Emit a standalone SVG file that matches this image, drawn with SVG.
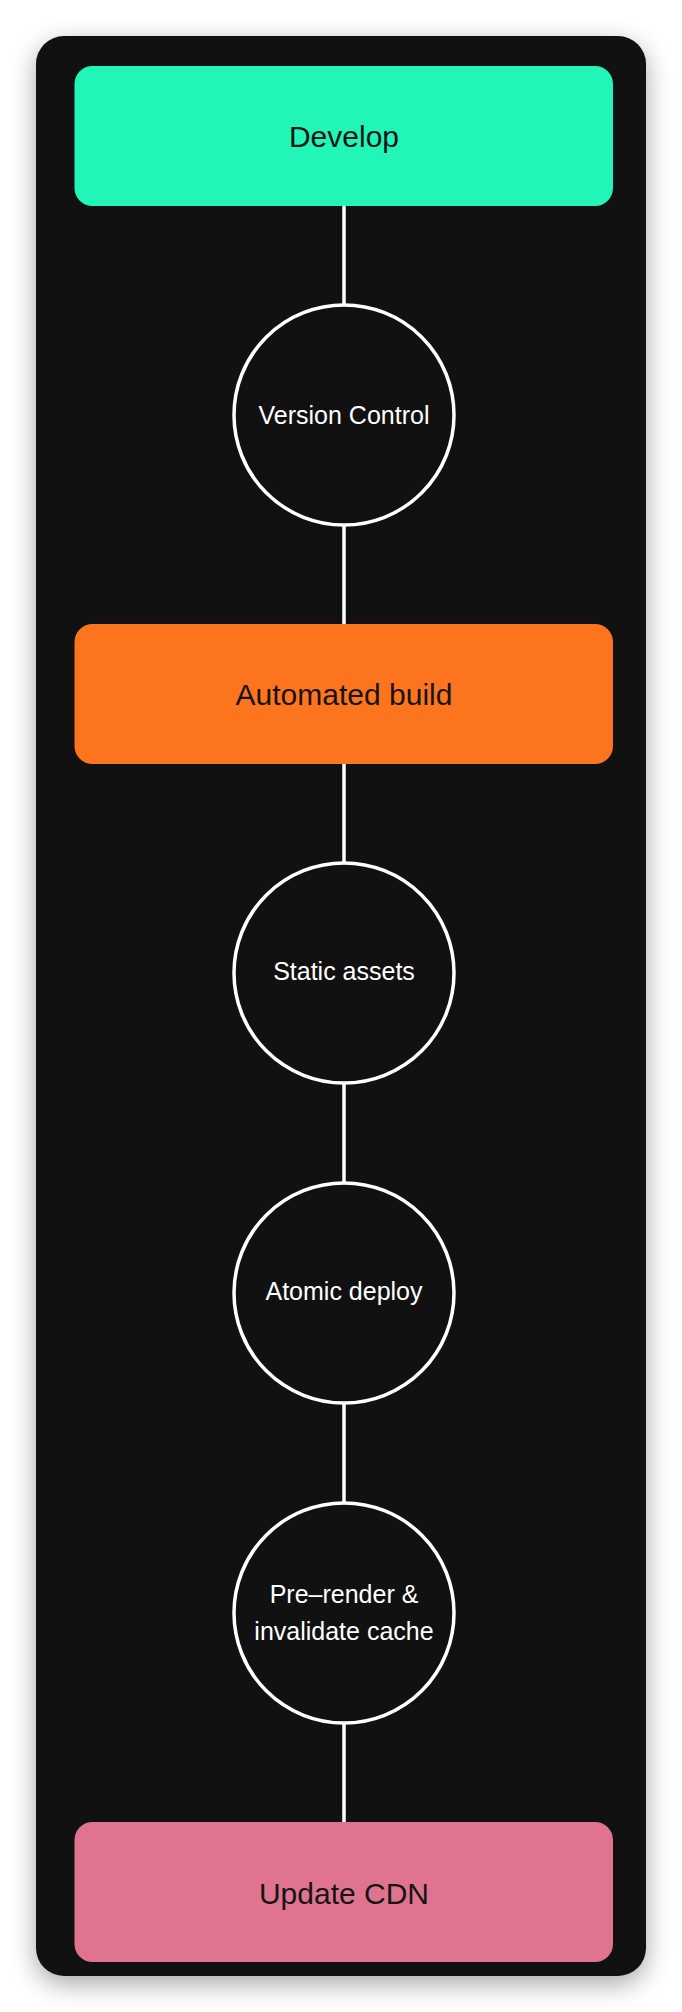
<svg xmlns="http://www.w3.org/2000/svg" width="682" height="2012" viewBox="0 0 682 2012">
<defs>
<filter id="shadow" x="-20%" y="-10%" width="140%" height="120%" color-interpolation-filters="sRGB">
<feGaussianBlur stdDeviation="13"/>
</filter>
</defs>
<style>
.box-text{font-family:"Liberation Sans",Arial,Helvetica,sans-serif;font-size:30px;fill:#151515;text-anchor:middle}
.circ-text{font-family:"Liberation Sans",Arial,Helvetica,sans-serif;font-size:25px;fill:#ffffff;text-anchor:middle}
.circ{fill:#111111;stroke:#ffffff;stroke-width:3.5}
.edge{stroke:#ffffff;stroke-width:3.5;fill:none}
</style>
<rect width="682" height="2012" fill="#ffffff"/>
<rect x="36" y="44" width="610" height="1940" rx="28" fill="#000000" opacity="0.35" filter="url(#shadow)"/>
<rect id="card" x="36" y="36" width="610" height="1940" rx="28" fill="#111111"/>
<g id="connectors">
<line class="edge" x1="344" y1="206" x2="344" y2="305"/>
<line class="edge" x1="344" y1="525" x2="344" y2="624"/>
<line class="edge" x1="344" y1="764" x2="344" y2="863"/>
<line class="edge" x1="344" y1="1083" x2="344" y2="1183"/>
<line class="edge" x1="344" y1="1403" x2="344" y2="1503"/>
<line class="edge" x1="344" y1="1723" x2="344" y2="1822"/>
</g>
<g id="develop">
<rect x="74.5" y="66" width="538.5" height="140" rx="18" fill="#21F5B8"/>
<text class="box-text" x="344" y="147">Develop</text>
</g>
<g id="version-control">
<circle class="circ" cx="344" cy="415" r="110"/>
<text class="circ-text" x="344" y="424">Version Control</text>
</g>
<g id="automated-build">
<rect x="74.5" y="624" width="538.5" height="140" rx="18" fill="#FD741F"/>
<text class="box-text" x="344" y="705">Automated build</text>
</g>
<g id="static-assets">
<circle class="circ" cx="344" cy="973" r="110"/>
<text class="circ-text" x="344" y="980">Static assets</text>
</g>
<g id="atomic-deploy">
<circle class="circ" cx="344" cy="1293" r="110"/>
<text class="circ-text" x="344" y="1300">Atomic deploy</text>
</g>
<g id="pre-render">
<circle class="circ" cx="344" cy="1613" r="110"/>
<text class="circ-text" x="344" y="1603">Pre–render &amp;</text>
<text class="circ-text" x="344" y="1640">invalidate cache</text>
</g>
<g id="update-cdn">
<rect x="74.5" y="1822" width="538.5" height="140" rx="18" fill="#E0748F"/>
<text class="box-text" x="344" y="1904">Update CDN</text>
</g>
</svg>
